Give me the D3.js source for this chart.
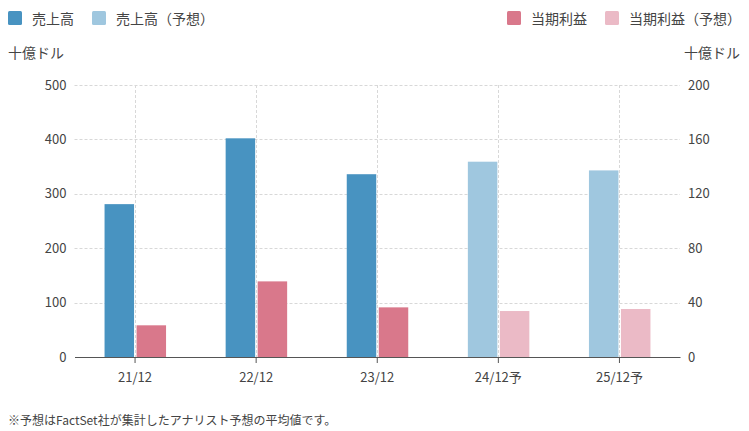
<!DOCTYPE html>
<html><head><meta charset="utf-8">
<script src="https://cdn.jsdelivr.net/npm/d3@7"></script>
<style>
body{margin:0;background:#fff;}
text{font-family:"Noto Sans CJK JP","Noto Sans",sans-serif;}
</style></head>
<body>
<svg id="c" width="749" height="431"></svg>
<script>
const categories = ["21/12","22/12","23/12","24/12予","25/12予"];
const sales = [281, 402, 336, 359, 343];
const profit = [23.3, 55.6, 36.5, 33.8, 35.3];
const forecast = [false, false, false, true, true];
const leftTicks = [0,100,200,300,400,500];
const rightTicks = [0,40,80,120,160,200];
const legendLeft = ["売上高","売上高（予想）"];
const legendRight = ["当期利益","当期利益（予想）"];
const unitLabel = "十億ドル";
const note = "※予想はFactSet社が集計したアナリスト予想の平均値です。";

const C = {sales:"#4893c1", salesF:"#9fc7df", profit:"#d9788b", profitF:"#ebbac6"};
const svg = d3.select("#c");
const m = {l:74.5, r:680, t:85, b:357};

const x = d3.scaleBand().domain(categories).range([m.l, m.r]).padding(0);
const yL = d3.scaleLinear().domain([0,500]).range([m.b, m.t]);
const yR = d3.scaleLinear().domain([0,200]).range([m.b, m.t]);

// grid
const g = svg.append("g");
g.selectAll("line.h").data(leftTicks.slice(1)).join("line")
  .attr("x1", m.l).attr("x2", m.r)
  .attr("y1", d=>Math.round(yL(d))+0.5).attr("y2", d=>Math.round(yL(d))+0.5)
  .attr("stroke","#d8d8d8").attr("stroke-dasharray","3,2");
g.selectAll("line.v").data(categories).join("line")
  .attr("x1", d=>Math.round(x(d)+x.bandwidth()/2)+0.5).attr("x2", d=>Math.round(x(d)+x.bandwidth()/2)+0.5)
  .attr("y1", m.t).attr("y2", m.b)
  .attr("stroke","#d8d8d8").attr("stroke-dasharray","3,2");

// bars
const bw = 29.5;
svg.append("g").selectAll("rect").data(categories).join("rect")
  .attr("x", (d)=>x(d)+x.bandwidth()/2 - 1 - bw)
  .attr("y", (d,i)=>yL(sales[i]))
  .attr("width", bw)
  .attr("height", (d,i)=>m.b - yL(sales[i]))
  .attr("fill", (d,i)=>forecast[i]?C.salesF:C.sales);
svg.append("g").selectAll("rect").data(categories).join("rect")
  .attr("x", (d)=>x(d)+x.bandwidth()/2 + 1.5)
  .attr("y", (d,i)=>yR(profit[i]))
  .attr("width", bw)
  .attr("height", (d,i)=>m.b - yR(profit[i]))
  .attr("fill", (d,i)=>forecast[i]?C.profitF:C.profit);

// x axis
const xa = svg.append("g").attr("transform",`translate(0,${m.b})`)
  .call(d3.axisBottom(x).tickSize(6).tickSizeOuter(0).tickPadding(10));
xa.select(".domain").attr("stroke","#555");
xa.selectAll(".tick line").attr("stroke","#555");
xa.selectAll("text").attr("font-size",13).attr("fill","#444")
  .style("font-family","'Noto Sans CJK JP',sans-serif");

// left axis
const ya = svg.append("g").attr("transform",`translate(${m.l},0)`)
  .call(d3.axisLeft(yL).tickValues(leftTicks).tickSize(0).tickPadding(8));
ya.select(".domain").remove();
ya.selectAll("text").attr("font-size",13).attr("fill","#444");
const yr = svg.append("g").attr("transform",`translate(${m.r},0)`)
  .call(d3.axisRight(yR).tickValues(rightTicks).tickSize(0).tickPadding(8));
yr.select(".domain").remove();
yr.selectAll("text").attr("font-size",13).attr("fill","#444");

// unit labels
svg.append("text").attr("x",8).attr("y",58).attr("font-size",14).attr("fill","#444").text(unitLabel);
svg.append("text").attr("x",740).attr("y",58).attr("text-anchor","end").attr("font-size",14).attr("fill","#444").text(unitLabel);

// legends
const lg = [
  {x:8, c:C.sales, t:legendLeft[0]},
  {x:92, c:C.salesF, t:legendLeft[1]},
  {x:507, c:C.profit, t:legendRight[0]},
  {x:605, c:C.profitF, t:legendRight[1]}
];
const L = svg.append("g").selectAll("g").data(lg).join("g");
L.append("rect").attr("x",d=>d.x).attr("y",11).attr("width",14).attr("height",14).attr("rx",1.5).attr("fill",d=>d.c);
L.append("text").attr("x",d=>d.x+24).attr("y",23.5).attr("font-size",14).attr("fill","#444").text(d=>d.t);

// footnote
svg.append("text").attr("x",8).attr("y",425).attr("font-size",12).attr("fill","#444").text(note);
</script>
</body></html>
